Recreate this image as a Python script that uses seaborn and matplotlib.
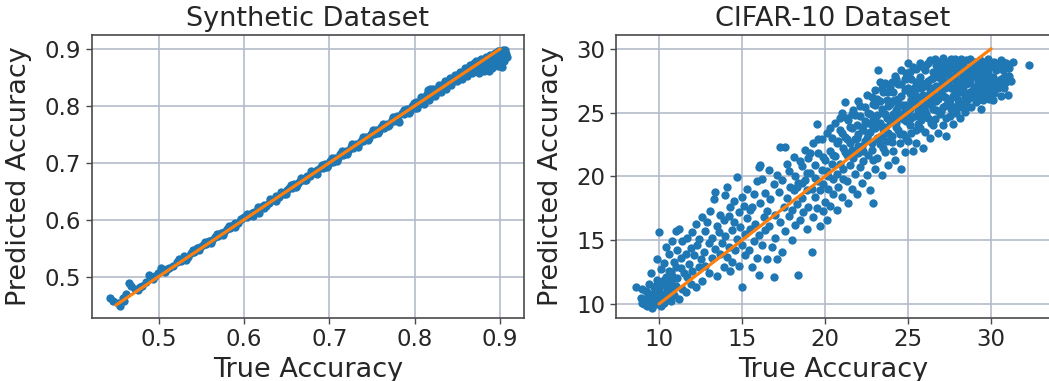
import matplotlib
matplotlib.use("Agg")
import matplotlib.pyplot as plt
import seaborn as sns

# ---------------- Synthetic dataset: true vs predicted accuracy ----------------
synth_true = [
    0.443, 0.447, 0.452, 0.455, 0.458, 0.462, 0.465, 0.468, 0.472, 0.476,
    0.481, 0.489, 0.494, 0.499, 0.503, 0.507, 0.512, 0.517,
    0.521, 0.526, 0.530, 0.534, 0.538, 0.542, 0.545, 0.549, 0.552, 0.556,
    0.559, 0.563, 0.566, 0.570, 0.573, 0.577, 0.580, 0.584, 0.587, 0.590,
    0.593, 0.597, 0.600,
    0.603, 0.606, 0.609, 0.612, 0.615, 0.618, 0.620, 0.623, 0.626, 0.629,
    0.632, 0.635, 0.638, 0.641, 0.644, 0.647, 0.650, 0.653, 0.656, 0.659,
    0.662, 0.665, 0.668, 0.671, 0.674, 0.677, 0.680, 0.683, 0.686, 0.689,
    0.692, 0.695, 0.698,
    0.701, 0.704, 0.707, 0.710, 0.713, 0.716, 0.719, 0.722, 0.725, 0.728,
    0.731, 0.734, 0.737, 0.740, 0.743, 0.746, 0.749, 0.752, 0.755, 0.758,
    0.761, 0.764, 0.767, 0.770, 0.773, 0.776, 0.779, 0.782, 0.785, 0.788,
    0.791, 0.794, 0.797, 0.800,
    0.802, 0.805, 0.808, 0.810, 0.813, 0.815, 0.818, 0.820, 0.822, 0.825,
    0.827, 0.829, 0.832, 0.834, 0.836, 0.838, 0.840, 0.842, 0.844, 0.846,
    0.848, 0.850, 0.852, 0.854, 0.856, 0.858, 0.860, 0.862, 0.864, 0.866,
    0.868, 0.870, 0.815, 0.818,
    0.871, 0.873, 0.874, 0.876, 0.877, 0.879, 0.880, 0.882, 0.883, 0.885,
    0.886, 0.887, 0.889, 0.890, 0.891, 0.893, 0.894, 0.895, 0.896, 0.898,
    0.899, 0.900, 0.901, 0.902, 0.903, 0.904, 0.905, 0.906, 0.897, 0.892,
    0.460, 0.478, 0.485, 0.496, 0.510,
    0.524, 0.532, 0.540, 0.547, 0.554, 0.561, 0.568, 0.575, 0.582, 0.589, 0.596,
    0.604, 0.611, 0.617, 0.624, 0.631, 0.637, 0.643, 0.649, 0.655, 0.661,
    0.667, 0.673, 0.679, 0.685, 0.691, 0.697,
    0.703, 0.709, 0.715, 0.721, 0.727, 0.733, 0.739, 0.745, 0.751, 0.757,
    0.763, 0.769, 0.775, 0.781, 0.787, 0.793, 0.799,
    0.803, 0.807, 0.811, 0.814, 0.817, 0.821, 0.824, 0.828, 0.831, 0.835,
    0.837, 0.841, 0.843, 0.847, 0.849, 0.853, 0.855, 0.859, 0.861, 0.865,
    0.867, 0.869,
    0.872, 0.875, 0.878, 0.881, 0.884, 0.887, 0.888, 0.891, 0.894, 0.897,
    0.899, 0.901, 0.903, 0.905, 0.907, 0.908, 0.906, 0.902,
]
synth_pred = [
    0.463, 0.458, 0.454, 0.449, 0.462, 0.470, 0.488, 0.483, 0.479, 0.476,
    0.484, 0.503, 0.496, 0.506, 0.515, 0.509, 0.516, 0.519,
    0.525, 0.528, 0.536, 0.535, 0.541, 0.544, 0.551, 0.552, 0.555, 0.558,
    0.563, 0.564, 0.570, 0.571, 0.577, 0.578, 0.584, 0.585, 0.590, 0.594,
    0.595, 0.601, 0.604,
    0.605, 0.609, 0.612, 0.613, 0.614, 0.612, 0.622, 0.625, 0.624, 0.630,
    0.634, 0.634, 0.641, 0.640, 0.647, 0.646, 0.652, 0.656, 0.655, 0.662,
    0.661, 0.667, 0.669, 0.670, 0.677, 0.676, 0.682, 0.682, 0.688, 0.690,
    0.691, 0.698, 0.697,
    0.703, 0.702, 0.709, 0.708, 0.715, 0.714, 0.721, 0.720, 0.727, 0.726,
    0.733, 0.731, 0.739, 0.738, 0.745, 0.743, 0.751, 0.750, 0.757, 0.756,
    0.763, 0.761, 0.769, 0.767, 0.775, 0.773, 0.782, 0.772, 0.788, 0.785,
    0.794, 0.791, 0.800, 0.797,
    0.806, 0.803, 0.812, 0.808, 0.818, 0.814, 0.822, 0.818, 0.826, 0.823,
    0.832, 0.828, 0.836, 0.833, 0.840, 0.837, 0.845, 0.840, 0.848, 0.845,
    0.852, 0.849, 0.856, 0.852, 0.860, 0.855, 0.864, 0.858, 0.866, 0.861,
    0.870, 0.864, 0.828, 0.830,
    0.872, 0.866, 0.861, 0.874, 0.869, 0.864, 0.877, 0.871, 0.866, 0.880,
    0.874, 0.868, 0.883, 0.877, 0.871, 0.886, 0.880, 0.874, 0.889, 0.883,
    0.877, 0.892, 0.886, 0.880, 0.895, 0.889, 0.884, 0.893, 0.896, 0.890,
    0.457, 0.481, 0.490, 0.501, 0.513,
    0.531, 0.530, 0.547, 0.546, 0.561, 0.559, 0.575, 0.573, 0.589, 0.587, 0.602,
    0.610, 0.607, 0.622, 0.620, 0.637, 0.633, 0.649, 0.645, 0.661, 0.657,
    0.673, 0.669, 0.685, 0.681, 0.697, 0.693,
    0.709, 0.704, 0.721, 0.716, 0.733, 0.728, 0.745, 0.740, 0.757, 0.752,
    0.769, 0.764, 0.781, 0.776, 0.793, 0.788, 0.805,
    0.797, 0.815, 0.804, 0.821, 0.811, 0.829, 0.817, 0.836, 0.825, 0.843,
    0.830, 0.849, 0.836, 0.855, 0.843, 0.860, 0.848, 0.866, 0.853, 0.871,
    0.858, 0.875,
    0.878, 0.858, 0.882, 0.862, 0.886, 0.862, 0.889, 0.866, 0.893, 0.870,
    0.897, 0.875, 0.899, 0.879, 0.891, 0.886, 0.898, 0.869,
]
synth_diag = [0.45, 0.90]

# ---------------- CIFAR-10: true vs predicted accuracy ----------------
cifar_true = [
    8.6, 8.9, 9.0, 9.1, 9.2, 9.3, 9.3, 9.4, 9.5, 9.5,
    9.6, 9.6, 9.7, 9.8, 9.8, 9.9, 9.9, 10.0, 10.0, 10.0,
    10.1, 10.1, 10.2, 10.2, 10.3, 10.3, 10.4, 10.4, 10.5, 10.5,
    10.6, 10.6, 10.7, 10.7, 10.8, 10.8, 10.9, 10.9, 11.0, 11.0,
    11.1, 11.1, 11.2, 11.2, 11.3, 11.3, 11.4, 11.4, 11.5, 11.6,
    11.6, 11.7, 11.7, 11.8, 11.9, 11.9, 12.0, 12.0, 12.1, 12.2,
    12.2, 12.3, 12.4, 12.4, 12.5,
    12.6, 12.6, 12.7, 12.8, 12.8, 12.9, 13.0, 13.0, 13.1, 13.2,
    13.2, 13.3, 13.4, 13.4, 13.5, 13.5, 13.6, 13.7, 13.7, 13.8,
    13.9, 13.9, 14.0, 14.0, 14.1, 14.1, 14.2, 14.2, 14.3, 14.3,
    14.4, 14.4, 14.5, 14.5, 14.6,
    14.7, 14.7, 14.8, 14.8, 14.9, 15.0, 15.0, 15.0, 15.1, 15.2,
    15.2, 15.3, 15.3, 15.4, 15.5, 15.5, 15.6, 15.6, 15.7, 15.7,
    15.8, 15.9, 15.9, 16.0, 16.0, 16.0, 16.1, 16.1, 16.2, 16.2,
    16.3, 16.4, 16.4, 16.5, 16.5,
    16.6, 16.6, 16.7, 16.8, 16.9, 16.9, 17.0, 17.0, 17.1, 17.1,
    17.2, 17.3, 17.3, 17.4, 17.4, 17.5, 17.6, 17.6, 17.7, 17.7,
    17.8, 17.8, 17.9, 18.0, 18.0, 18.1, 18.1, 18.2, 18.2, 18.3,
    18.4, 18.4, 18.5, 18.5,
    18.6, 18.6, 18.7, 18.8, 18.8, 18.9, 18.9, 19.0, 19.0, 19.1,
    19.2, 19.2, 19.3, 19.3, 19.4, 19.4, 19.5, 19.5, 19.6, 19.6,
    19.7, 19.7, 19.8, 19.8, 19.9, 19.9, 20.0, 20.0, 20.1, 20.1,
    20.2, 20.2, 20.3, 20.3, 20.4, 20.4, 20.5, 20.5,
    20.6, 20.6, 20.7, 20.7, 20.8, 20.8, 20.9, 20.9, 21.0, 21.0,
    21.1, 21.1, 21.2, 21.2, 21.3, 21.3, 21.4, 21.4, 21.5, 21.5,
    21.6, 21.6, 21.7, 21.7, 21.8, 21.8, 21.9, 21.9, 22.0, 22.0,
    22.0, 22.1, 22.1, 22.2, 22.2, 22.3, 22.3, 22.4, 22.4, 22.5,
    22.5, 22.5,
    22.6, 22.6, 22.7, 22.7, 22.8, 22.8, 22.9, 22.9, 23.0, 23.0,
    23.1, 23.1, 23.2, 23.2, 23.3, 23.3, 23.4, 23.4, 23.5, 23.5,
    23.6, 23.6, 23.7, 23.7, 23.8, 23.8, 23.9, 23.9, 24.0, 24.0,
    24.1, 24.1, 24.2, 24.2, 24.3, 24.3, 24.4, 24.4, 24.5, 24.5,
    23.0, 23.5, 24.0, 22.8, 24.3,
    24.6, 24.6, 24.7, 24.7, 24.8, 24.8, 24.9, 24.9, 25.0, 25.0,
    25.0, 25.1, 25.1, 25.2, 25.2, 25.3, 25.3, 25.4, 25.4, 25.5,
    25.5, 25.6, 25.6, 25.7, 25.7, 25.8, 25.8, 25.9, 25.9, 26.0,
    26.0, 26.1, 26.1, 26.2, 26.2, 26.3, 26.3, 26.4, 26.4, 26.5,
    26.5, 24.8, 25.2, 25.6, 26.0, 26.3, 25.4, 24.6, 25.8, 26.5,
    26.6, 26.6, 26.7, 26.7, 26.8, 26.8, 26.9, 26.9, 27.0, 27.0,
    27.1, 27.1, 27.2, 27.2, 27.3, 27.3, 27.4, 27.4, 27.5, 27.5,
    27.6, 27.6, 27.7, 27.7, 27.8, 27.8, 27.9, 27.9, 28.0, 28.0,
    28.1, 28.1, 28.2, 28.2, 28.3, 28.3, 28.4, 28.4, 28.5, 28.5,
    26.9, 27.3, 27.6, 28.0, 26.7, 27.1, 27.9, 28.3, 27.4, 28.5,
    28.6, 28.6, 28.7, 28.7, 28.8, 28.8, 28.9, 29.0, 29.0, 29.1,
    29.1, 29.2, 29.3, 29.3, 29.4, 29.5, 29.5, 29.6, 29.7, 29.7,
    29.8, 29.9, 30.0, 30.0, 30.1, 30.2, 30.2, 30.3, 30.4, 30.5,
    29.0, 29.4, 29.8, 30.1, 28.9, 29.6,
    30.6, 30.6, 30.7, 30.8, 30.9, 31.0, 31.0, 31.1, 31.2, 31.3,
    30.8, 32.3,
    21.0, 21.2, 21.3, 21.5, 21.6, 21.8, 21.9, 22.0, 22.1, 22.2,
    22.3, 22.4, 22.5, 22.6, 22.7, 22.8, 22.9, 23.0, 23.0, 22.9,
    23.1, 23.1, 23.2, 23.3, 23.3, 23.4, 23.4, 23.5, 23.6, 23.6,
    23.7, 23.8, 23.8, 23.9, 24.0, 24.0, 24.1, 24.2, 24.2, 24.3,
    24.4, 24.4, 24.5, 24.6, 24.6, 24.7, 24.8, 24.9, 24.9, 25.0,
    25.1, 25.1, 25.2, 25.3, 25.3, 25.4, 25.5, 25.5, 25.6, 25.7,
    25.7, 25.8, 25.9, 25.9, 26.0, 26.0, 26.1, 26.1, 26.2, 26.2,
    26.3, 26.4, 26.4, 26.5, 26.5, 26.6, 26.6, 26.7, 26.7, 26.8,
    26.8, 26.9, 26.9, 27.0, 27.0,
    27.1, 27.1, 27.2, 27.2, 27.3, 27.3, 27.4, 27.5, 27.5, 27.6,
    27.6, 27.7, 27.7, 27.8, 27.8, 27.9, 27.9, 28.0, 28.0, 28.1,
    28.1, 28.2, 28.2, 28.3, 28.3, 28.4, 28.4, 28.5, 28.5, 28.6,
    28.7, 28.7, 28.8, 28.9, 28.9,
    29.0, 29.1, 29.1, 29.2, 29.2, 29.3, 29.4, 29.4, 29.5, 29.6,
    29.6, 29.7, 29.8, 29.9, 29.9, 30.0, 30.1, 30.2, 30.3, 30.4,
    30.5, 30.7, 30.9, 31.1, 30.6,
    9.0, 9.2, 9.4, 9.5, 9.7, 9.8, 10.0, 10.1, 10.2, 10.3,
    10.4, 10.6, 10.7, 10.8, 11.0,
    18.3, 18.6, 18.9, 19.1, 19.4, 19.6, 19.9, 20.1, 20.3, 20.5,
    20.7, 20.9, 21.1, 21.3, 21.6,
]
cifar_pred = [
    11.3, 10.5, 11.2, 10.0, 10.4, 9.8, 10.9, 11.6, 10.2, 12.4,
    9.7, 10.8, 11.3, 10.0, 10.5, 11.9, 13.5, 15.6, 10.3, 11.0,
    9.8, 12.7, 10.6, 11.5, 10.1, 13.2, 12.1, 14.5, 10.4, 11.1,
    12.6, 13.9, 10.2, 11.8, 14.9, 12.2, 10.7, 13.3, 15.7, 11.4,
    12.0, 14.2, 15.9, 10.4, 12.8, 13.6, 14.9, 11.2, 12.4, 13.9,
    10.9, 15.2, 12.1, 13.1, 11.6, 14.4, 15.6, 12.6, 13.8, 11.3,
    16.3, 14.6, 12.9, 15.1, 13.5,
    16.8, 11.8, 14.1, 15.7, 13.0, 16.4, 14.8, 12.4, 17.3, 15.2,
    13.6, 18.2, 18.8, 14.3, 16.1, 12.2, 15.6, 17.0, 13.9, 14.8,
    16.6, 12.9, 18.5, 15.3, 19.2, 13.7, 16.9, 14.5, 17.6, 12.6,
    15.8, 13.3, 16.4, 18.1, 14.2,
    19.95, 15.1, 17.2, 13.0, 16.0, 18.4, 11.3, 14.6, 17.7, 15.5,
    13.8, 16.7, 19.0, 14.2, 17.4, 15.9, 17.6, 12.9, 18.6, 14.9,
    16.3, 19.6, 13.6, 20.7, 15.4, 12.3, 20.9, 17.9, 19.8, 14.6,
    16.8, 18.7, 15.8, 17.3, 13.5,
    20.5, 16.1, 18.2, 14.5, 12.1, 19.4, 17.0, 15.2, 13.5, 20.1,
    18.8, 22.3, 16.4, 19.7, 14.1, 17.6, 22.3, 15.7, 21.0, 18.3,
    16.9, 20.4, 19.2, 15.0, 17.4, 21.5, 18.9, 16.2, 20.0, 17.8,
    12.3, 19.5, 16.6, 21.2,
    18.3, 20.8, 17.2, 19.7, 22.1, 15.9, 18.9, 21.4, 17.6, 20.3,
    14.1, 19.0, 22.6, 16.8, 18.4, 20.9, 24.1, 17.5, 19.6, 21.8,
    16.1, 18.9, 20.5, 22.9, 17.3, 19.4, 21.3, 18.0, 23.4, 16.6,
    20.0, 19.0, 22.0, 17.7, 21.0, 23.0, 18.6, 19.8,
    21.6, 24.2, 17.4, 20.2, 22.8, 19.2, 23.6, 21.0, 25.0, 18.4,
    22.2, 20.6, 25.8, 23.1, 19.6, 21.7, 24.4, 17.9, 22.6, 20.9,
    23.8, 19.0, 21.4, 25.2, 22.9, 20.2, 24.0, 18.6, 25.9, 21.8,
    23.3, 20.7, 24.7, 22.4, 19.5, 23.6, 21.2, 25.4, 22.8, 20.1,
    24.2, 23.0,
    21.7, 25.0, 18.9, 23.5, 26.2, 22.1, 17.9, 24.4, 20.6, 25.6,
    23.0, 21.4, 28.3, 24.0, 27.4, 22.5, 25.3, 20.1, 26.6, 23.7,
    21.9, 24.9, 26.0, 22.8, 25.5, 20.9, 24.3, 27.0, 23.2, 25.9,
    22.0, 26.6, 24.6, 21.3, 25.2, 27.6, 23.6, 26.1, 22.6, 24.9,
    24.6, 22.2, 24.4, 24.0, 23.9,
    27.2, 20.6, 25.6, 23.3, 26.8, 21.9, 24.3, 28.1, 28.85, 25.0,
    22.8, 26.5, 24.0, 27.6, 23.4, 25.8, 22.0, 27.0, 24.7, 28.4,
    22.6, 26.2, 25.2, 23.8, 27.8, 24.4, 26.9, 22.2, 28.6, 25.6,
    23.5, 27.3, 24.9, 26.3, 28.9, 23.0, 25.8, 27.6, 24.2, 26.8,
    28.2, 25.3, 26.0, 24.1, 27.1, 26.6, 26.4, 24.7, 25.5, 25.3,
    29.2, 24.5, 27.1, 25.9, 28.3, 23.4, 26.4, 28.8, 25.1, 27.6,
    29.3, 24.0, 26.9, 28.0, 25.6, 23.2, 27.4, 29.0, 26.1, 24.7,
    28.5, 25.3, 27.8, 24.1, 26.6, 29.2, 25.0, 28.1, 27.0, 26.0,
    29.0, 24.6, 27.5, 28.6, 25.7, 26.8, 25.05, 28.2, 27.2, 29.1,
    27.7, 28.6, 26.9, 28.4, 28.7, 26.3, 27.4, 27.9, 26.0, 26.4,
    28.0, 26.1, 29.2, 27.3, 25.4, 28.6, 26.8, 27.9, 29.0, 25.8,
    27.0, 28.4, 26.4, 29.1, 27.6, 28.7, 26.0, 27.2, 28.9, 26.7,
    28.1, 27.4, 28.8, 26.5, 27.8, 29.0, 27.0, 28.3, 26.9, 28.6,
    26.3, 25.3, 29.2, 26.0, 27.9, 28.3,
    27.6, 29.1, 28.3, 26.9, 28.9, 27.9, 26.4, 28.5, 27.5, 29.0,
    27.8, 28.7,
    23.4, 21.9, 24.6, 23.9, 22.1, 24.8, 23.0, 22.4, 25.5, 23.9,
    22.0, 24.3, 26.4, 23.3, 24.9, 22.6, 25.7, 23.8, 26.8, 21.3,
    24.8, 26.1, 22.9, 25.9, 24.2, 26.9, 23.1, 25.0, 27.3, 23.9,
    24.6, 26.6, 23.4, 25.7, 27.4, 22.7, 24.9, 26.0, 27.9, 24.2,
    25.5, 27.2, 23.3, 26.3, 28.3, 24.5, 27.6, 25.6, 23.0, 26.9,
    28.2, 25.3, 24.6, 26.7, 28.6, 25.9, 23.6, 27.4, 26.9, 25.0,
    28.9, 27.3, 24.8, 26.4, 28.3, 25.1, 26.0, 28.7, 24.6, 27.5,
    29.1, 25.6, 26.9, 24.0, 27.7, 26.3, 28.0, 25.2, 27.0, 29.0,
    26.1, 24.9, 27.1, 28.5, 26.5,
    27.9, 25.4, 28.9, 26.2, 27.2, 24.6, 28.2, 27.0, 25.7, 29.2,
    27.6, 26.3, 28.9, 25.4, 27.9, 26.4, 29.0, 25.6, 27.5, 28.3,
    26.6, 25.4, 29.2, 27.3, 28.7, 26.2, 27.6, 28.0, 25.6, 27.5,
    28.5, 26.6, 27.8, 28.9, 26.2,
    28.2, 28.9, 26.6, 27.5, 26.0, 28.0, 28.9, 26.9, 27.7, 29.0,
    26.4, 27.8, 27.0, 28.5, 26.1, 27.6, 28.9, 26.5, 27.5, 28.8,
    27.3, 29.0, 27.4, 27.9, 26.3,
    10.1, 11.0, 10.6, 9.9, 10.4, 11.4, 10.7, 11.6, 10.0, 11.9,
    10.8, 11.4, 12.5, 10.9, 12.9,
    19.2, 19.5, 20.3, 21.8, 19.9, 22.9, 21.5, 20.4, 23.8, 21.7,
    22.6, 24.6, 19.8, 22.9, 24.9,
]
cifar_diag = [10, 30]

titles = ["Synthetic Dataset", "CIFAR-10 Dataset"]
synth_ticks = [0.5, 0.6, 0.7, 0.8, 0.9]
cifar_ticks = [10, 15, 20, 25, 30]

sns.set_theme(style="whitegrid")
plt.rcParams["font.family"] = ["DejaVu Sans"]
plt.rcParams.update({
    "axes.edgecolor": "#4a4a4a",
    "axes.linewidth": 1.2,
    "grid.color": "#b4bcc9",
    "grid.linewidth": 1.2,
    "text.color": "#262626",
    "axes.labelcolor": "#262626",
    "xtick.color": "#262626",
    "ytick.color": "#262626",
})

BLUE = "#1f77b4"
ORANGE = "#ff7f0e"

fig = plt.figure(figsize=(10.49, 3.81), dpi=100)
ax1 = fig.add_axes([0.0873, 0.1654, 0.4122, 0.7435])
ax2 = fig.add_axes([0.5872, 0.1654, 0.4137, 0.7435])

panels = [
    (ax1, synth_true, synth_pred, synth_diag, synth_ticks, (0.4215, 0.928), (0.4274, 0.925)),
    (ax2, cifar_true, cifar_pred, cifar_diag, cifar_ticks, (7.41, 33.54), (8.9, 31.1)),
]

for (ax, xt, yp, diag, ticks, xlim, ylim), title in zip(panels, titles):
    sns.scatterplot(x=xt, y=yp, ax=ax, color=BLUE, s=36, linewidth=0, alpha=1, zorder=2)
    sns.lineplot(x=diag, y=diag, ax=ax, color=ORANGE, linewidth=2.3, zorder=3)
    ax.set_xlim(*xlim)
    ax.set_ylim(*ylim)
    ax.set_xticks(ticks)
    ax.set_yticks(ticks)
    if ticks[0] < 1:
        ax.set_xticklabels([f"{t:.1f}" for t in ticks])
        ax.set_yticklabels([f"{t:.1f}" for t in ticks])
    ax.set_axisbelow(True)
    ax.grid(True)
    for sp in ax.spines.values():
        sp.set_visible(True)
        sp.set_color("#4a4a4a")
    ax.tick_params(axis="both", which="major", direction="out", length=4.5, width=1.0,
                   color="#4a4a4a", labelsize=16.5, bottom=True, left=True, pad=3)
    ax.set_title(title, fontsize=19.5, pad=6)
    ax.set_xlabel("True Accuracy", fontsize=19.5, labelpad=4)
    ax.set_ylabel("Predicted Accuracy", fontsize=19.5, labelpad=9)

fig.savefig("out.png", dpi=100)
